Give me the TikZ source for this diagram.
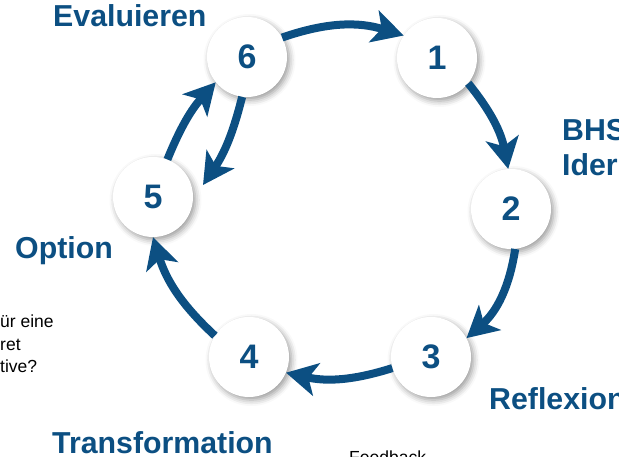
\documentclass[tikz,border=0pt]{standalone}
\usepackage{fontspec}
\setmainfont{Liberation Sans}
\usetikzlibrary{arrows.meta,shadows.blur}
\definecolor{bhsblue}{RGB}{12,79,130}
\begin{document}
\begin{tikzpicture}[x=1pt,y=1pt,
  stepcircle/.style={circle, fill=white, minimum size=80pt, inner sep=0pt, text=bhsblue,
    font=\fontsize{34}{40}\selectfont\bfseries,
    blur shadow={shadow xshift=2.5pt, shadow yshift=-3pt, shadow blur radius=6pt, shadow opacity=40}},
  flow/.style={line width=8pt, draw=bhsblue, -{Stealth[length=31pt,width=33pt,inset=8pt]}},
  phase/.style={anchor=base west, text=bhsblue, font=\fontsize{30.3}{36}\selectfont\bfseries, inner sep=0pt},
  note/.style={anchor=base west, font=\fontsize{17.5}{21}\selectfont, inner sep=0pt}]
\useasboundingbox (0,0) rectangle (619,-457);
% step circles
\node[stepcircle] (n6) at (247,-57) {6};
\node[stepcircle] (n1) at (437,-58) {1};
\node[stepcircle] (n2) at (511,-209) {2};
\node[stepcircle] (n3) at (431,-357) {3};
\node[stepcircle] (n4) at (249,-357) {4};
\node[stepcircle] (n5) at (153,-197) {5};
% connectors
\draw[flow] (n6.29) to[bend left=18] (n1.146);
\draw[flow] (n1.-39) to[bend left=14] (n2.94);
\draw[flow] (n2.-84) to[bend left=20] (n3.28);
\draw[flow] (n3.196) to[bend left=15] (n4.-23);
\draw[flow] (n4.148) to[bend left=15] (n5.270);
\draw[flow] (n5.69) to[bend left=10] (n6.219);
\draw[flow] (n6.263) to[bend left=10] ([shift={(50,12)}]n5.center);
% phase labels
\node[phase] (lEval) at (53,-27) {Evaluieren};
\node[phase] (lBHS) at (562,-141) {BHS};
\node[phase] (lIden) at (562,-176) {Ider};
\node[phase] (lRefl) at (489,-409) {Reflexion};
\node[phase] (lTrans) at (52,-453) {Transformation};
\node[phase] (lOpt) at (15,-259) {Option};
% notes
\node[note] (t1) at (0,-327) {ür eine};
\node[note] (t2) at (0,-350) {ret};
\node[note] (t3) at (0,-372) {tive?};
\node[note] (t4) at (349,-463) {Feedback};
\end{tikzpicture}
\end{document}
